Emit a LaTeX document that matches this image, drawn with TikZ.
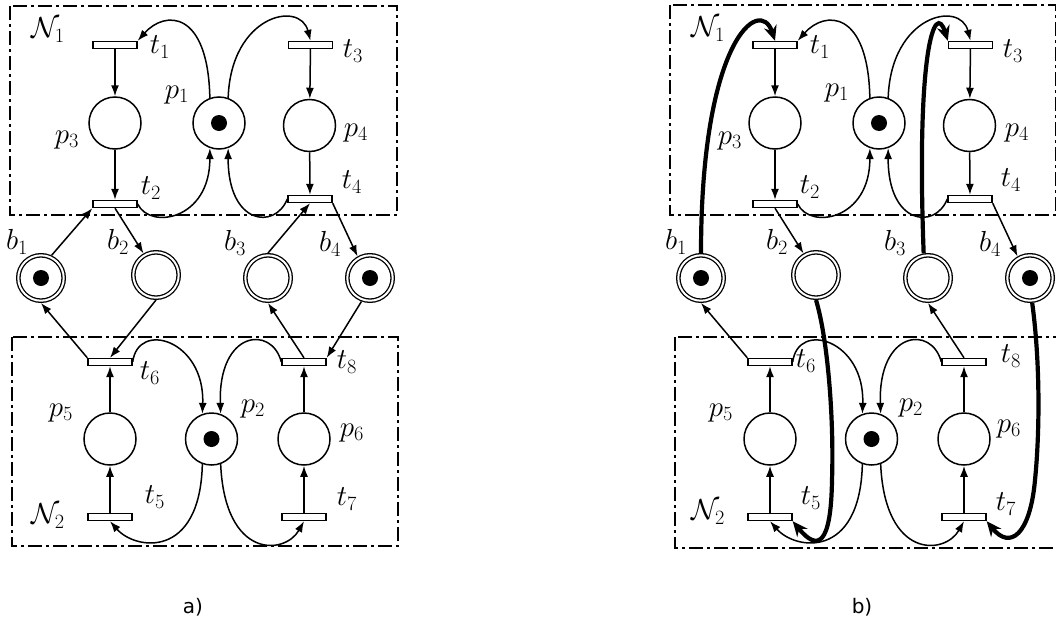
\RequirePackage{fix-cm}
\documentclass[tikz,border=0pt]{standalone}
\usepackage{fontspec}
\newfontfamily\djv{DejaVu Sans}
\usetikzlibrary{arrows.meta}
\tikzset{
  trans/.style={draw, fill=white, rectangle, minimum width=44pt, minimum height=7pt, inner sep=0pt, line width=1.4pt},
  place/.style={draw, circle, minimum size=52pt, inner sep=0pt, line width=1.5pt},
  bplace/.style={draw, circle, double, double distance=2pt, line width=1.3pt, minimum size=45.4pt, inner sep=0pt, outer sep=2.3pt},
  flow/.style={line width=1.5pt, -{Latex[length=11pt,width=8pt]}},
  heavyflow/.style={line width=4.2pt, -{Stealth[length=15pt,width=13pt]}},
  netbox/.style={line width=1.4pt, dash pattern=on 14pt off 4pt on 3pt off 4pt},
  lab/.style={inner sep=0pt, font=\fontsize{29}{34}\selectfont},
  captext/.style={inner sep=0pt, font=\djv\fontsize{20}{24}\selectfont},
}
\newcommand\petrinet[1]{%
  \node[trans] (#1t1) at (115,45) {};
  \node[trans] (#1t3) at (310.5,45) {};
  \node[trans] (#1t2) at (115,204) {};
  \node[trans] (#1t4) at (310,199) {};
  \node[place] (#1p3) at (115,123) {};
  \node[place] (#1p1) at (219,123) {};
  \node[place] (#1p4) at (309.5,125.5) {};
  \node[bplace] (#1b1) at (41,278) {};
  \node[bplace] (#1b2) at (156,275) {};
  \node[bplace] (#1b3) at (268,278) {};
  \node[bplace] (#1b4) at (370,278) {};
  \node[trans] (#1t6) at (110,362) {};
  \node[trans] (#1t8) at (304,362) {};
  \node[trans] (#1t5) at (110,517) {};
  \node[trans] (#1t7) at (304,517) {};
  \node[place] (#1p5) at (110,439) {};
  \node[place] (#1p2) at (211.5,439) {};
  \node[place] (#1p6) at (304,439) {};
  \fill (#1p1) circle (8pt);
  \fill (#1p2) circle (8pt);
  \fill (#1b1) circle (8pt);
  \fill (#1b4) circle (8pt);
  \draw[flow] (#1t1) -- (#1p3);
  \draw[flow] (#1p3) -- (#1t2);
  \draw[flow] (#1t3) -- (#1p4);
  \draw[flow] (#1p4) -- (#1t4);
  \draw[flow] (#1t5) -- (#1p5);
  \draw[flow] (#1p5) -- (#1t6);
  \draw[flow] (#1t7) -- (#1p6);
  \draw[flow] (#1p6) -- (#1t8);
  \draw[flow] (#1p1.110) .. controls (208,10) and (165,10) .. (#1t1.north east);
  \draw[flow] (#1p1.70) .. controls (231,15) and (300,0) .. (#1t3.north);
  \draw[flow] (#1t2.east) .. controls (150,230) and (210,220) .. (#1p1.-110);
  \draw[flow] (#1t4.west) .. controls (275,230) and (228,225) .. (#1p1.-70);
  \draw[flow] (#1t6.east) .. controls (138,320) and (205,340) .. (#1p2.110);
  \draw[flow] (#1t8.west) .. controls (272,325) and (218,330) .. (#1p2.70);
  \draw[flow] (#1p2.-110) .. controls (200,560) and (135,550) .. (#1t5.south);
  \draw[flow] (#1p2.-70) .. controls (225,560) and (285,555) .. (#1t7.south);
  \draw[flow] (#1t2.south) -- (#1b2.120);
  \draw[flow] (#1t4.south east) -- (#1b4.120);
  \draw[flow] (#1t6.north west) -- (#1b1.south);
  \draw[flow] (#1t8.north) -- (#1b3.south);
}
\begin{document}
\begin{tikzpicture}[x=1pt,y=-1pt]
\useasboundingbox (0,0) rectangle (1056,632);
% ---------- panel a ----------
\draw[netbox] (10,6) rectangle (397,215);
\draw[netbox] (12,337) rectangle (398,546);
\petrinet{a}
\draw[flow] (ab1.65) -- (at2.south west);
\draw[flow] (ab3.north) -- (at4.south);
\draw[flow] (ab2.south) -- (at6.north);
\draw[flow] (ab4.-110) -- (at8.north east);
\node[lab] (aN1) at (48,30) {$\mathcal{N}_1$};
\node[lab] (alt1) at (160,47) {$t_1$};
\node[lab] (alt3) at (353,51) {$t_3$};
\node[lab] (alp1) at (177,95) {$p_1$};
\node[lab] (alp3) at (67,140) {$p_3$};
\node[lab] (alp4) at (356,133) {$p_4$};
\node[lab] (alt2) at (151,188) {$t_2$};
\node[lab] (alt4) at (352,182) {$t_4$};
\node[lab] (alb1) at (17,242) {$b_1$};
\node[lab] (alb2) at (118,242) {$b_2$};
\node[lab] (alb3) at (235,243) {$b_3$};
\node[lab] (alb4) at (330,244) {$b_4$};
\node[lab] (alt6) at (150,373) {$t_6$};
\node[lab] (alt8) at (347,362) {$t_8$};
\node[lab] (alp5) at (61,413) {$p_5$};
\node[lab] (alp2) at (253,409) {$p_2$};
\node[lab] (alp6) at (352,433) {$p_6$};
\node[lab] (alt5) at (155,497) {$t_5$};
\node[lab] (alt7) at (347,499) {$t_7$};
\node[lab] (aN2) at (48,516) {$\mathcal{N}_2$};
\node[captext] (capa) at (193,607) {a)};
% ---------- panel b ----------
\draw[netbox] (670,5) rectangle (1056,215);
\draw[netbox] (675,337) rectangle (1060,548);
\begin{scope}[xshift=660pt]
\petrinet{b}
\end{scope}
\draw[heavyflow] (bb1.north) .. controls (701,40) and (760,-5) .. (bt1.north);
\draw[heavyflow] (bb3.100) .. controls (916,50) and (935,0) .. (bt3.north west);
\draw[heavyflow] (bb2.south) .. controls (828,340) and (834,420) .. (832,480)
   .. controls (831,545) and (818,552) .. (bt5.south east);
\draw[heavyflow] (bb4.-85) .. controls (1040,360) and (1040,430) .. (1035,480)
   .. controls (1030,535) and (1010,550) .. (bt7.south east);
\node[lab] (bN1) at (708,29) {$\mathcal{N}_1$};
\node[lab] (blt1) at (820,47) {$t_1$};
\node[lab] (blt3) at (1013,51) {$t_3$};
\node[lab] (blp1) at (837,93) {$p_1$};
\node[lab] (blp3) at (730,141) {$p_3$};
\node[lab] (blp4) at (1017,133) {$p_4$};
\node[lab] (blt2) at (810,187) {$t_2$};
\node[lab] (blt4) at (1011,180) {$t_4$};
\node[lab] (blb1) at (676,242) {$b_1$};
\node[lab] (blb2) at (777,242) {$b_2$};
\node[lab] (blb3) at (895,243) {$b_3$};
\node[lab] (blb4) at (990,244) {$b_4$};
\node[lab] (blt6) at (806,361) {$t_6$};
\node[lab] (blt8) at (1011,356) {$t_8$};
\node[lab] (blp5) at (721,413) {$p_5$};
\node[lab] (blp2) at (911,408) {$p_2$};
\node[lab] (blp6) at (1009,429) {$p_6$};
\node[lab] (blt5) at (811,498) {$t_5$};
\node[lab] (blt7) at (1006,504) {$t_7$};
\node[lab] (bN2) at (708,512) {$\mathcal{N}_2$};
\node[captext] (capb) at (862,607) {b)};
\end{tikzpicture}
\end{document}
